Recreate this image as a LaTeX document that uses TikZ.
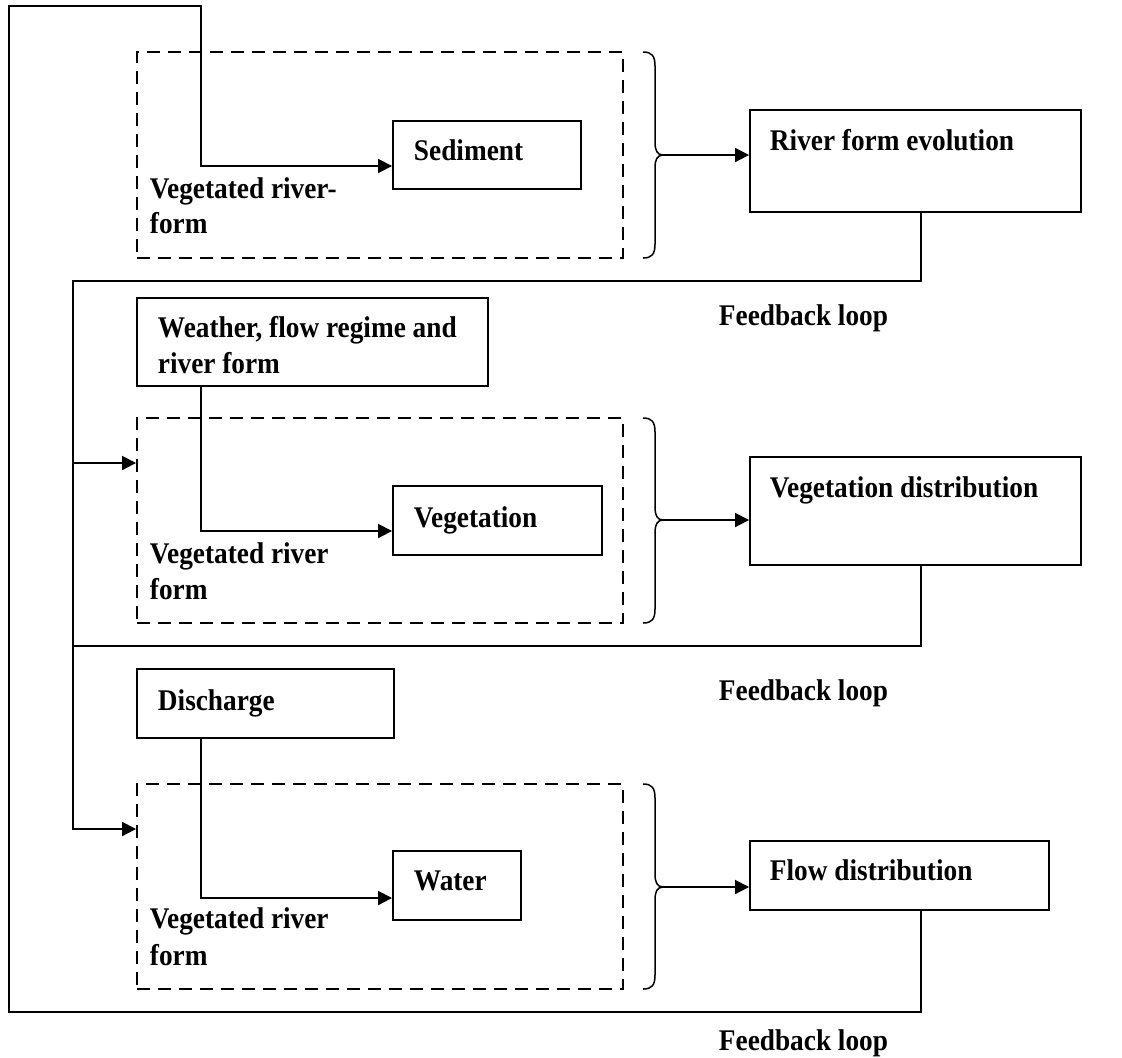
\documentclass[tikz,border=0pt]{standalone}
\usepackage{fontspec}
\setmainfont[FakeStretch=0.91]{Liberation Serif}
\usetikzlibrary{arrows.meta,fit}
\begin{document}
\begin{tikzpicture}[x=0.5pt,y=-0.5pt,
  line width=0.95pt,
  box/.style={draw,rectangle,inner sep=0pt},
  dbox/.style={draw,rectangle,inner sep=0pt,dash pattern=on 6.5pt off 4pt},
  lbl/.style={inner sep=0pt,anchor=base west,font=\fontsize{15}{18}\selectfont\bfseries},
  arr/.style={-{Triangle[length=7pt,width=7pt]}},
  bracket/.style={line width=0.75pt}]
\useasboundingbox (0,0) rectangle (1122,1057);

% ---- boxes ----
\node[dbox,fit={(137,52) (623,258)}] (d1) {};
\node[dbox,fit={(137,418) (623,623)}] (d2) {};
\node[dbox,fit={(137,784) (623,989)}] (d3) {};
\node[box,fit={(393,121) (581,189)}] (sed) {};
\node[box,fit={(393,486) (602,555)}] (veg) {};
\node[box,fit={(393,851) (521,920)}] (wat) {};
\node[box,fit={(137,298) (488,386)}] (wea) {};
\node[box,fit={(137,669) (394,738)}] (dis) {};
\node[box,fit={(750,110) (1081,212)}] (riv) {};
\node[box,fit={(750,457) (1081,565)}] (vd) {};
\node[box,fit={(750,841) (1049,910)}] (fd) {};

% ---- labels ----
\node[lbl] (tsed) at (413,160) {Sediment};
\node[lbl] (tveg) at (413,527) {Vegetation};
\node[lbl] (twat) at (413,890) {Water};
\node[lbl] (twea1) at (157,337) {Weather, flow regime and};
\node[lbl] (twea2) at (157,373) {river form};
\node[lbl] (tdis) at (157,710) {Discharge};
\node[lbl] (triv) at (769,150) {River form evolution};
\node[lbl] (tvd) at (769,497) {Vegetation distribution};
\node[lbl] (tfd) at (769,880) {Flow distribution};
\node[lbl] (ta1) at (149,198) {Vegetated river-};
\node[lbl] (ta2) at (149,233) {form};
\node[lbl] (tb1) at (149,563) {Vegetated river};
\node[lbl] (tb2) at (149,599) {form};
\node[lbl] (tc1) at (149,928) {Vegetated river};
\node[lbl] (tc2) at (149,965) {form};
\node[lbl] (fb1) at (718,325) {Feedback loop};
\node[lbl] (fb2) at (718,700) {Feedback loop};
\node[lbl] (fb3) at (718,1050) {Feedback loop};

% ---- braces ----
\foreach \t/\b/\m/\n in {52/258/155/b1, 418/623/520/b2, 784/989/887/b3}{
  \draw[bracket] (643,\t) .. controls (652,\t) and (655,\t+4) .. (655,\t+14)
    -- (655,\m-13) .. controls (655,\m-5) and (657,\m) .. (663,\m)
    .. controls (657,\m) and (655,\m+5) .. (655,\m+13)
    -- (655,\b-14) .. controls (655,\b-4) and (652,\b) .. (643,\b);
  \coordinate (\n) at (663,\m);
}
\draw[arr] (b1) -- (b1 -| riv.west);
\draw[arr] (b2) -- (b2 -| vd.west);
\draw[arr] (b3) -- (b3 -| fd.west);

% ---- feed lines into the small boxes ----
\coordinate (fx) at (921,0);
\coordinate (ix) at (201,0);
\coordinate (s1) at (201,166);
\coordinate (s2) at (201,531);
\coordinate (s3) at (201,898);
\draw[arr] (wea.south -| ix) -- (s2) -- (s2 -| veg.west);
\draw[arr] (dis.south -| ix) -- (s3) -- (s3 -| wat.west);

% ---- outer feedback loop ----
\coordinate (o1) at (9,1012);
\coordinate (o2) at (9,6);
\coordinate (o3) at (201,6);
\draw[arr] (fd.south -| fx) |- (o1) -- (o2) -- (o3) -- (s1) -- (s1 -| sed.west);

% ---- inner feedback loops ----
\coordinate (l1) at (73,281);
\coordinate (l2) at (73,829);
\coordinate (j1) at (73,463);
\coordinate (j2) at (73,646);
\draw[arr] (riv.south -| fx) |- (l1) -- (l2) -- (l2 -| d3.west);
\draw[arr] (j1) -- (j1 -| d2.west);
\draw (vd.south -| fx) |- (j2);
\end{tikzpicture}
\end{document}
